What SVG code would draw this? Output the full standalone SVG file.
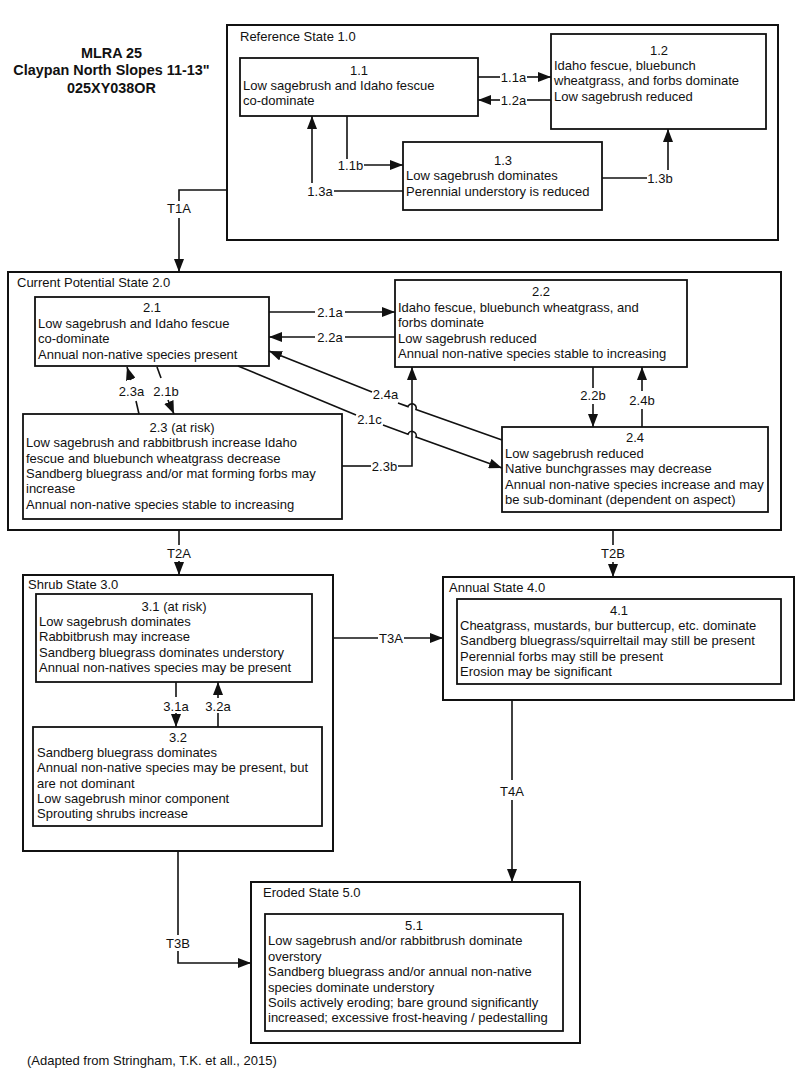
<svg xmlns="http://www.w3.org/2000/svg" width="800" height="1070" viewBox="0 0 800 1070">
<style>
text{font-family:"Liberation Sans",Arial,sans-serif;font-size:13px;fill:#111}
.c{text-anchor:middle}
.title{font-weight:bold;font-size:14.4px;text-anchor:middle}
.outer{fill:none;stroke:#111;stroke-width:2}
.inner{fill:#fff;stroke:#111;stroke-width:1.8}
.ln{fill:none;stroke:#111;stroke-width:1.6}
.arr{fill:none;stroke:#111;stroke-width:1.6;marker-end:url(#ah)}
</style>
<defs>
<marker id="ah" markerUnits="userSpaceOnUse" markerWidth="14" markerHeight="10" refX="13" refY="5" orient="auto">
<path d="M0,0 L13,5 L0,10 z" fill="#111"/>
</marker>
</defs>
<rect width="800" height="1070" fill="#fff"/>

<g id="title">
<text class="title" x="111.5" y="57.5">MLRA 25</text>
<text class="title" x="111.5" y="75">Claypan North Slopes 11-13"</text>
<text class="title" x="111.5" y="92.5">025XY038OR</text>
</g>

<g id="state1">
<rect class="outer" x="227" y="25" width="551" height="215"/>
<text x="240" y="40.5">Reference State 1.0</text>
</g>
<g id="n11">
<rect class="inner" x="240" y="58" width="238" height="58"/>
<text class="c" x="359" y="75">1.1</text>
<text x="243" y="90">Low sagebrush and Idaho fescue</text>
<text x="243" y="105">co-dominate</text>
</g>
<g id="n12">
<rect class="inner" x="551" y="34" width="215" height="95"/>
<text class="c" x="659" y="55">1.2</text>
<text x="554" y="70">Idaho fescue, bluebunch</text>
<text x="554" y="85">wheatgrass, and forbs dominate</text>
<text x="554" y="100.5">Low sagebrush reduced</text>
</g>
<g id="n13">
<rect class="inner" x="403" y="142" width="199" height="68"/>
<text class="c" x="503" y="164.5">1.3</text>
<text x="406" y="180">Low sagebrush dominates</text>
<text x="406" y="195.5">Perennial understory is reduced</text>
</g>

<g id="state2">
<rect class="outer" x="8" y="272" width="773" height="258"/>
<text x="17" y="286.5">Current Potential State 2.0</text>
</g>
<g id="n21">
<rect class="inner" x="35" y="297" width="234" height="69"/>
<text class="c" x="152" y="312">2.1</text>
<text x="38" y="327.5">Low sagebrush and Idaho fescue</text>
<text x="38" y="343">co-dominate</text>
<text x="38" y="358.5">Annual non-native species present</text>
</g>
<g id="n22">
<rect class="inner" x="395" y="280" width="292" height="87"/>
<text class="c" x="541" y="296">2.2</text>
<text x="398" y="311.5">Idaho fescue, bluebunch wheatgrass, and</text>
<text x="398" y="327">forbs dominate</text>
<text x="398" y="342.5">Low sagebrush reduced</text>
<text x="398" y="358">Annual non-native species stable to increasing</text>
</g>
<g id="n23">
<rect class="inner" x="23" y="414" width="319" height="105"/>
<text class="c" x="182" y="432">2.3 (at risk)</text>
<text x="26" y="447">Low sagebrush and rabbitbrush increase Idaho</text>
<text x="26" y="462.5">fescue and bluebunch wheatgrass decrease</text>
<text x="26" y="478">Sandberg bluegrass and/or mat forming forbs may</text>
<text x="26" y="493">increase</text>
<text x="26" y="508.5">Annual non-native species stable to increasing</text>
</g>
<g id="n24">
<rect class="inner" x="502" y="427" width="266" height="85"/>
<text class="c" x="635" y="442">2.4</text>
<text x="505" y="457.5">Low sagebrush reduced</text>
<text x="505" y="473">Native bunchgrasses may decrease</text>
<text x="505" y="488.5">Annual non-native species increase and may</text>
<text x="505" y="504">be sub-dominant (dependent on aspect)</text>
</g>

<g id="state3">
<rect class="outer" x="23" y="575" width="310" height="276"/>
<text x="28" y="588.5">Shrub State 3.0</text>
</g>
<g id="n31">
<rect class="inner" x="36" y="594" width="276" height="88"/>
<text class="c" x="174" y="610.5">3.1 (at risk)</text>
<text x="39" y="625.5">Low sagebrush dominates</text>
<text x="39" y="641">Rabbitbrush may increase</text>
<text x="39" y="656.5">Sandberg bluegrass dominates understory</text>
<text x="39" y="671.5">Annual non-natives species may be present</text>
</g>
<g id="n32">
<rect class="inner" x="33" y="727" width="289" height="99"/>
<text class="c" x="178" y="742">3.2</text>
<text x="37" y="757">Sandberg bluegrass dominates</text>
<text x="37" y="772">Annual non-native species may be present, but</text>
<text x="37" y="788">are not dominant</text>
<text x="37" y="803">Low sagebrush minor component</text>
<text x="37" y="818">Sprouting shrubs increase</text>
</g>

<g id="state4">
<rect class="outer" x="443" y="577" width="351" height="123"/>
<text x="449" y="591.5">Annual State 4.0</text>
</g>
<g id="n41">
<rect class="inner" x="457" y="599" width="324" height="85"/>
<text class="c" x="619" y="614.5">4.1</text>
<text x="460" y="630">Cheatgrass, mustards, bur buttercup, etc. dominate</text>
<text x="460" y="645">Sandberg bluegrass/squirreltail may still be present</text>
<text x="460" y="660.5">Perennial forbs may still be present</text>
<text x="460" y="676">Erosion may be significant</text>
</g>

<g id="state5">
<rect class="outer" x="251" y="882" width="329" height="161"/>
<text x="263" y="896.5">Eroded State 5.0</text>
</g>
<g id="n51">
<rect class="inner" x="265" y="914" width="298" height="117"/>
<text class="c" x="414" y="930">5.1</text>
<text x="268" y="945">Low sagebrush and/or rabbitbrush dominate</text>
<text x="268" y="960.5">overstory</text>
<text x="268" y="976">Sandberg bluegrass and/or annual non-native</text>
<text x="268" y="991.5">species dominate understory</text>
<text x="268" y="1007">Soils actively eroding; bare ground significantly</text>
<text x="268" y="1022">increased; excessive frost-heaving / pedestalling</text>
</g>

<g id="connectors">
<!-- state 1 -->
<path class="ln" d="M478,77 H500"/><path class="arr" d="M527,77 H551"/>
<text class="c" x="513.5" y="81.5">1.1a</text>
<path class="ln" d="M551,100 H527"/><path class="arr" d="M500,100 H478"/>
<text class="c" x="513.5" y="104.5">1.2a</text>
<path class="ln" d="M347,116 V159"/><path class="arr" d="M364,165 H403"/>
<text class="c" x="350.5" y="169.5">1.1b</text>
<path class="ln" d="M403,191 H334"/><path class="arr" d="M312,183 V116"/>
<text class="c" x="320" y="195.5">1.3a</text>
<path class="ln" d="M602,178 H647"/><path class="arr" d="M668,170 V129"/>
<text class="c" x="660" y="182.5">1.3b</text>
<path class="ln" d="M227,190 H179 V201"/><path class="arr" d="M179,218 V272"/>
<text class="c" x="179" y="213">T1A</text>
<!-- state 2 -->
<path class="ln" d="M269,312 H315"/><path class="arr" d="M345,312 H395"/>
<text class="c" x="330" y="316.5">2.1a</text>
<path class="ln" d="M395,337 H345"/><path class="arr" d="M315,337 H269"/>
<text class="c" x="330" y="341.5">2.2a</text>
<path class="ln" d="M157,367 L161,378"/><path class="arr" d="M168,400 L174,414"/>
<text class="c" x="166" y="395.5">2.1b</text>
<path class="ln" d="M139,414 L136,401"/><path class="arr" d="M131,380 L127,367"/>
<text class="c" x="131.5" y="395.5">2.3a</text>
<path class="ln" d="M238,366 L356,415"/>
<path class="arr" d="M383,425 L408,434.2 A4.2,4.2 0 0 1 416,437.1 L502,468"/>
<text class="c" x="369.5" y="423.5">2.1c</text>
<path class="ln" d="M502,440 L416,409.4 A4.2,4.2 0 0 0 408,406.6 L398,403"/>
<path class="arr" d="M372,392 L269,351"/>
<text class="c" x="385.5" y="399">2.4a</text>
<path class="ln" d="M342,466 H371"/><path class="arr" d="M398,466 H412 V367"/>
<text class="c" x="384.5" y="470.5">2.3b</text>
<path class="ln" d="M593,367 V388"/><path class="arr" d="M593,404 V427"/>
<text class="c" x="593" y="400">2.2b</text>
<path class="ln" d="M642,427 V409"/><path class="arr" d="M642,391 V367"/>
<text class="c" x="642" y="405">2.4b</text>
<path class="ln" d="M179,530 V545"/><path class="arr" d="M179,561 V575"/>
<text class="c" x="179" y="558">T2A</text>
<path class="ln" d="M613,530 V545"/><path class="arr" d="M613,562 V577"/>
<text class="c" x="613" y="558">T2B</text>
<!-- state 3 -->
<path class="ln" d="M176,682 V697"/><path class="arr" d="M176,713 V727"/>
<text class="c" x="176" y="710.5">3.1a</text>
<path class="ln" d="M218,727 V713"/><path class="arr" d="M218,698 V682"/>
<text class="c" x="218" y="710.5">3.2a</text>
<path class="ln" d="M333,638 H378"/><path class="arr" d="M404,638 H443"/>
<text class="c" x="391" y="642.5">T3A</text>
<path class="ln" d="M178,851 V935"/><path class="arr" d="M178,951 V963 H251"/>
<text class="c" x="178" y="947.5">T3B</text>
<!-- state 4 -->
<path class="ln" d="M512,700 V780"/><path class="arr" d="M512,800 V882"/>
<text class="c" x="512" y="795.5">T4A</text>
</g>

<text x="27" y="1065">(Adapted from Stringham, T.K. et all., 2015)</text>
</svg>
